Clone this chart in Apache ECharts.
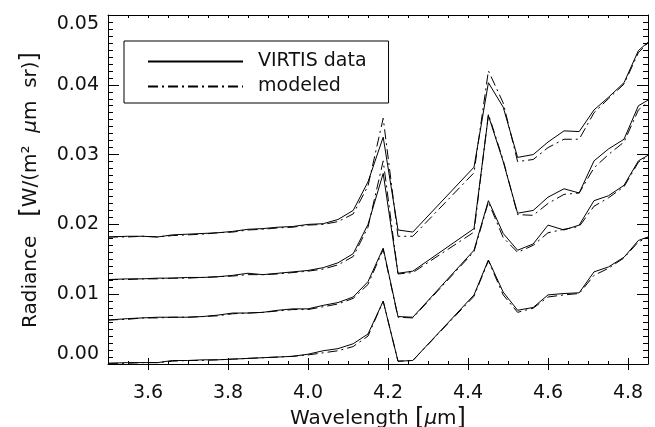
<!DOCTYPE html>
<html><head><meta charset="utf-8">
<script src="https://cdn.jsdelivr.net/npm/echarts@6/dist/echarts.min.js"></script>
<style>html,body{margin:0;padding:0;background:#fff}#c{width:655px;height:427px}</style>
</head><body><div id="c"></div>
<script>
const wavelengths = [3.500, 3.549, 3.586, 3.624, 3.661, 3.699, 3.737, 3.774, 3.812, 3.850, 3.887, 3.925, 3.962, 4.000, 4.038, 4.075, 4.113, 4.150, 4.188, 4.225, 4.262, 4.415, 4.451, 4.488, 4.524, 4.563, 4.600, 4.640, 4.678, 4.715, 4.751, 4.790, 4.826, 4.850];

const dataA  = [0.0182,0.0183,0.0183,0.0182,0.0185,0.0186,0.0187,0.0188,0.0190,0.0193, 0.0194,0.0196,0.0197,0.0200,0.0201,0.0207,0.0220,0.0261,0.0325,0.0192, 0.0189,0.0282,0.0403,0.0368,0.0296,0.0300,0.0318,0.0334,0.0333,0.0364, 0.0382,0.0403,0.0449,0.0461];
const modelA = [0.0182,0.0182,0.0183,0.0182,0.0184,0.0185,0.0186,0.0188,0.0189,0.0192, 0.0193,0.0195,0.0196,0.0199,0.0200,0.0204,0.0215,0.0255,0.0352,0.0183, 0.0183,0.0274,0.0420,0.0374,0.0290,0.0293,0.0310,0.0322,0.0322,0.0360, 0.0380,0.0401,0.0446,0.0460];
const dataB  = [0.0121,0.0122,0.0122,0.0123,0.0123,0.0124,0.0124,0.0125,0.0127,0.0130, 0.0128,0.0130,0.0132,0.0134,0.0138,0.0145,0.0158,0.0200,0.0273,0.0130, 0.0133,0.0194,0.0356,0.0290,0.0216,0.0220,0.0239,0.0251,0.0245,0.0291, 0.0308,0.0322,0.0370,0.0378];
const modelB = [0.0121,0.0121,0.0122,0.0122,0.0123,0.0123,0.0124,0.0125,0.0126,0.0128, 0.0128,0.0129,0.0131,0.0133,0.0136,0.0142,0.0154,0.0196,0.0291,0.0129, 0.0131,0.0189,0.0358,0.0292,0.0214,0.0213,0.0230,0.0243,0.0245,0.0281, 0.0300,0.0318,0.0364,0.0375];
const dataC  = [0.0063,0.0065,0.0066,0.0067,0.0067,0.0067,0.0068,0.0070,0.0073,0.0073, 0.0074,0.0077,0.0079,0.0079,0.0084,0.0088,0.0096,0.0118,0.0166,0.0068, 0.0067,0.0163,0.0234,0.0187,0.0163,0.0172,0.0199,0.0192,0.0199,0.0234, 0.0241,0.0256,0.0291,0.0299];
const modelC = [0.0063,0.0064,0.0066,0.0066,0.0067,0.0067,0.0068,0.0069,0.0072,0.0073, 0.0074,0.0076,0.0078,0.0078,0.0082,0.0086,0.0094,0.0114,0.0164,0.0067, 0.0066,0.0161,0.0232,0.0181,0.0160,0.0170,0.0188,0.0193,0.0197,0.0226, 0.0238,0.0254,0.0289,0.0298];
const dataD  = [0.0001,0.0002,0.0002,0.0002,0.0005,0.0005,0.0006,0.0006,0.0007,0.0008, 0.0009,0.0010,0.0011,0.0014,0.0019,0.0022,0.0029,0.0043,0.0090,0.0004, 0.0005,0.0099,0.0149,0.0103,0.0077,0.0081,0.0099,0.0101,0.0102,0.0132, 0.0139,0.0153,0.0177,0.0182];
const modelD = [0.0001,0.0001,0.0002,0.0002,0.0004,0.0005,0.0005,0.0006,0.0007,0.0008, 0.0009,0.0010,0.0011,0.0013,0.0016,0.0019,0.0025,0.0040,0.0090,0.0004, 0.0005,0.0097,0.0148,0.0099,0.0074,0.0080,0.0096,0.0099,0.0101,0.0127, 0.0137,0.0152,0.0175,0.0181];

const xLabelValues = [3.6, 3.8, 4.0, 4.2, 4.4, 4.6, 4.8];
const legendNames = ['VIRTIS data', 'modeled'];
const xTitle = 'Wavelength {br|[}{it|μ}m{br|]}';
const yTitle = 'Radiance   {br|[}W/(m²  {it|μ}m  sr){br|]}';

const FONT = 'DejaVu Sans';
const INK = '#000';
const TEXT = '#111';
const dashDot = [10, 4, 2, 4];

const chart = echarts.init(document.getElementById('c'), null, {renderer: 'canvas'});

function xAxisPair(pos, withLabels) {
  return [
    {
      type: 'value', position: pos, min: 3.5, max: 4.85, interval: 0.05,
      axisLine: {show: true, onZero: false, lineStyle: {color: INK, width: 1}},
      axisTick: {show: true, inside: true, length: 3, lineStyle: {color: INK, width: 1}},
      axisLabel: withLabels ? {
        show: true, customValues: xLabelValues, formatter: v => Number(v).toFixed(1),
        fontSize: 19, fontFamily: FONT, color: TEXT, margin: 20
      } : {show: false},
      splitLine: {show: false}
    },
    {
      type: 'value', position: pos, min: 3.5, max: 4.85,
      axisLine: {show: false},
      axisTick: {show: true, inside: true, length: 6, customValues: xLabelValues, lineStyle: {color: INK, width: 1}},
      axisLabel: {show: false},
      splitLine: {show: false}
    }
  ];
}

function yAxisDef(pos, withLabels) {
  return {
    type: 'value', position: pos, min: 0, max: 0.05, interval: 0.01,
    axisLine: {show: true, onZero: false, lineStyle: {color: INK, width: 1}},
    axisTick: {show: true, inside: true, length: 11, lineStyle: {color: INK, width: 1}},
    minorTick: {show: true, splitNumber: 10, length: 5, lineStyle: {color: INK, width: 1}},
    axisLabel: withLabels ? {
      show: true, formatter: v => Number(v).toFixed(2), fontSize: 19, fontFamily: FONT, color: TEXT, margin: 9,
      verticalAlignMaxLabel: 'top', verticalAlignMinLabel: 'bottom'
    } : {show: false},
    splitLine: {show: false}, minorSplitLine: {show: false}
  };
}

function pairs(arr) { return wavelengths.map((w, i) => [w, arr[i]]); }
function lineSeries(name, arr, dashed) {
  return {
    type: 'line', name: name, xAxisIndex: 0, yAxisIndex: 0,
    data: pairs(arr), symbol: 'none', showSymbol: false, smooth: false,
    lineStyle: {color: INK, width: 1, type: dashed ? dashDot : 'solid'},
    itemStyle: {color: INK},
    emphasis: {disabled: true}, silent: true, z: 3
  };
}

const series = [
  lineSeries(legendNames[0], dataA, false), lineSeries(legendNames[1], modelA, true),
  lineSeries(legendNames[0], dataB, false), lineSeries(legendNames[1], modelB, true),
  lineSeries(legendNames[0], dataC, false), lineSeries(legendNames[1], modelC, true),
  lineSeries(legendNames[0], dataD, false), lineSeries(legendNames[1], modelD, true)
];

const titleStyle = (text, size) => ({
  text: text, fontSize: size, fontFamily: FONT, fill: TEXT, align: 'center', verticalAlign: 'middle',
  rich: {
    it: {fontStyle: 'italic', fontSize: size, fontFamily: FONT, fill: TEXT},
    br: {fontSize: size + 4, fontFamily: FONT, fill: TEXT}
  }
});

chart.setOption({
  animation: false,
  backgroundColor: '#fff',
  grid: {left: 108, top: 15, width: 540, height: 349, containLabel: false},
  xAxis: [...xAxisPair('bottom', true), ...xAxisPair('top', false)],
  yAxis: [yAxisDef('left', true), yAxisDef('right', false)],
  legend: {
    data: legendNames, orient: 'vertical', left: 124, top: 41,
    itemWidth: 95, itemHeight: 14, itemGap: 6,
    padding: [11, 22, 7, 23],
    borderColor: INK, borderWidth: 1, backgroundColor: '#fff',
    selectedMode: false,
    itemStyle: {opacity: 0},
    textStyle: {fontSize: 19, fontFamily: FONT, color: TEXT, padding: [0, 0, 0, 10]}
  },
  graphic: [
    {type: 'text', x: 31, y: 190, rotation: Math.PI / 2, silent: true, style: titleStyle(yTitle, 20)},
    {type: 'text', x: 378, y: 418.5, silent: true, style: titleStyle(xTitle, 20)}
  ],
  series: series
});
</script>
</body></html>
